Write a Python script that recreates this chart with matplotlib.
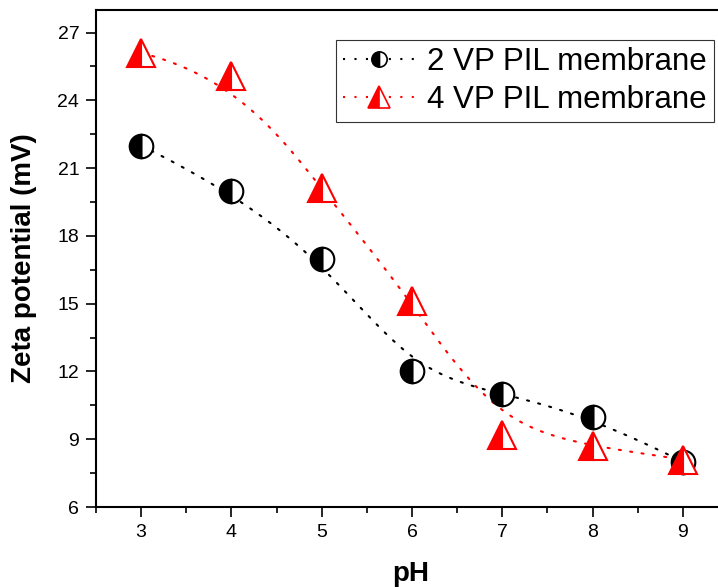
import matplotlib as mpl
import matplotlib.pyplot as plt
import numpy as np
from matplotlib.lines import Line2D
from matplotlib.ticker import MultipleLocator

mpl.rc('font', family=['Liberation Sans', 'DejaVu Sans'])

# data
ph = [3, 4, 5, 6, 7, 8, 9]
zeta_2vp = [22.0, 20.0, 17.0, 12.0, 11.0, 10.0, 8.0]
zeta_4vp = [26.1, 25.1, 20.1, 15.1, 9.2, 8.7, 8.1]
labels = ['2 VP PIL membrane', '4 VP PIL membrane']


def bspline(ctrl, n=400):
	# clamped cubic B-spline with the data as control points (like Origin's B-spline line)
	ctrl = np.asarray(ctrl, dtype=float)
	k = 3
	m = len(ctrl)
	knots = np.concatenate([np.zeros(k), np.arange(m - k + 1), np.full(k, m - k)])
	t = np.linspace(0, m - k, n)
	t[-1] -= 1e-9

	def basis(i, p):
		if p == 0:
			return ((knots[i] <= t) & (t < knots[i + 1])).astype(float)
		out = np.zeros_like(t)
		d1 = knots[i + p] - knots[i]
		if d1 > 0:
			out += (t - knots[i]) / d1 * basis(i, p - 1)
		d2 = knots[i + p + 1] - knots[i + 1]
		if d2 > 0:
			out += (knots[i + p + 1] - t) / d2 * basis(i + 1, p - 1)
		return out

	return sum(ctrl[i] * basis(i, k) for i in range(m))


def plot():
	fig = plt.figure(figsize=(7.18, 5.87), dpi=100)
	ax = fig.add_axes([96 / 718, 80 / 587, 632 / 718, 497 / 587])

	dots = (0, (1, 4.5))
	# values, colour, marker, size, legend size
	series = [
		(zeta_2vp, 'black', 'o', 17, 11),
		(zeta_4vp, 'red', '^', 20, 16),
	]
	handles = []
	for (vals, col, mk, ms, lms), lab in zip(series, labels):
		ax.plot(bspline(ph), bspline(vals), color=col, lw=1.5, linestyle=dots,
				dash_capstyle='round', zorder=2)
		ax.plot(ph, vals, linestyle='none', marker=mk, ms=ms, fillstyle='left',
				markerfacecolor=col, markerfacecoloralt='white', markeredgecolor=col,
				markeredgewidth=1.5, zorder=3)
		handles.append(Line2D([], [], color=col, lw=1.5, linestyle=dots, marker=mk,
							  ms=lms, fillstyle='left', markerfacecolor=col,
							  markerfacecoloralt='white', markeredgecolor=col,
							  markeredgewidth=1.2))

	ax.set_xlim(2.5, 9.5)
	ax.set_ylim(6, 28)
	ax.xaxis.set_major_locator(MultipleLocator(1))
	ax.xaxis.set_minor_locator(MultipleLocator(0.5))
	ax.yaxis.set_major_locator(MultipleLocator(3))
	ax.yaxis.set_minor_locator(MultipleLocator(1.5))
	ax.set_xticks(range(3, 10))
	ax.set_yticks(range(6, 28, 3))

	ax.tick_params(which='major', direction='out', length=7, width=1.2, labelsize=14, pad=5)
	ax.tick_params(which='minor', direction='out', length=4, width=1.2)
	ax.tick_params(top=False, right=False)
	for s in ax.spines.values():
		s.set_linewidth(1.5)

	ax.set_xlabel('pH', fontsize=20, fontweight='bold')
	ax.set_ylabel('Zeta potential (mV)', fontsize=20, fontweight='bold')
	ax.xaxis.set_label_coords(0.498, -0.108)
	ax.yaxis.set_label_coords(-0.093, 0.5)

	leg = ax.legend(handles, labels, loc='upper right', fontsize=22.5,
					bbox_to_anchor=(714 / 718, 1 - 40 / 587), bbox_transform=fig.transFigure,
					borderaxespad=0, borderpad=0.22, labelspacing=0.25, handlelength=2.3,
					handletextpad=0.4, fancybox=False, framealpha=1)
	leg.get_frame().set_edgecolor('#333333')
	leg.get_frame().set_linewidth(0.8)

	fig.savefig('out.png', dpi=100)


if __name__ == '__main__':
	plot()
